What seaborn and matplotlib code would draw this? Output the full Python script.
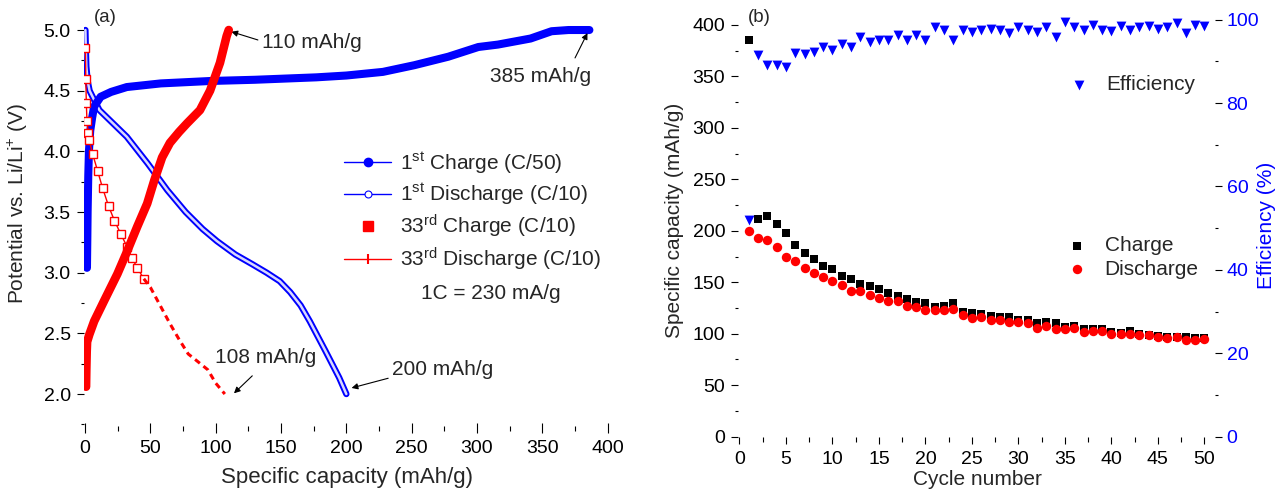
import numpy as np
import matplotlib
matplotlib.use("Agg")
import matplotlib.pyplot as plt
from matplotlib.lines import Line2D
from matplotlib.ticker import MultipleLocator
import seaborn as sns

# ---------------- data: panel (a) ----------------
charge1_cap = [1.5, 1.8, 2.0, 2.5, 3.0, 4.0, 5.5, 7, 12, 20, 32, 58, 96, 130, 177, 200, 228, 252, 278, 301, 316, 341, 357, 370, 386]
charge1_v = [3.04, 3.3, 3.5, 3.8, 4.0, 4.17, 4.28, 4.37, 4.45, 4.49, 4.53, 4.56, 4.58, 4.59, 4.61, 4.625, 4.655, 4.71, 4.78, 4.86, 4.88, 4.93, 4.99, 5.0, 5.0]

discharge1_cap = [0.3, 0.6, 1.0, 2.0, 3.5, 5.8, 11, 32, 48, 63, 77, 90, 101, 115, 128, 139, 149, 157, 165, 172, 184, 194.5, 200]
discharge1_v = [5.0, 4.85, 4.7, 4.58, 4.5, 4.45, 4.34, 4.12, 3.9, 3.68, 3.5, 3.36, 3.26, 3.15, 3.07, 3.0, 2.93, 2.84, 2.73, 2.6, 2.355, 2.135, 2.0]

charge33_cap = [0.8, 1.0, 1.3, 1.6, 3.3, 7, 14.7, 24.8, 32, 40, 47.6, 53, 59, 65, 72, 78, 88, 95.7, 103.3, 108.4, 110]
charge33_v = [2.06, 2.2, 2.35, 2.43, 2.49, 2.6, 2.77, 2.99, 3.17, 3.38, 3.57, 3.76, 3.95, 4.07, 4.16, 4.23, 4.34, 4.5, 4.73, 4.95, 5.0]

discharge33_cap = [0.3, 0.6, 1.0, 1.5, 2.5, 3.3, 5.8, 9.6, 13.4, 18, 22.5, 27.3, 32.4, 36, 40, 45, 50, 57, 65, 72, 79, 86, 94, 100, 107]
discharge33_v = [4.85, 4.6, 4.4, 4.25, 4.15, 4.09, 3.98, 3.84, 3.70, 3.55, 3.43, 3.32, 3.21, 3.12, 3.04, 2.95, 2.88, 2.74, 2.58, 2.45, 2.33, 2.27, 2.2, 2.09, 2.0]

legend_a = ["1$^{\\mathrm{st}}$ Charge (C/50)", "1$^{\\mathrm{st}}$ Discharge (C/10)",
            "33$^{\\mathrm{rd}}$ Charge (C/10)", "33$^{\\mathrm{rd}}$ Discharge (C/10)"]

# ---------------- data: panel (b) ----------------
cycles = list(range(1, 51))
charge = [385, 211, 214, 207, 198, 186, 178, 173, 166, 163, 156, 153, 148, 146, 143, 140, 137, 134, 131, 130,
          126, 127, 130, 121, 120, 119, 117, 116, 116, 113, 113, 110, 111, 110, 107, 108, 105, 105, 105, 102,
          101, 103, 100, 99, 98, 97, 97, 97, 96, 96]
discharge = [200, 193, 191, 184, 175, 171, 164, 159, 155, 151, 147, 142, 142, 138, 135, 132, 132, 127, 126, 123,
             123, 123, 124, 118, 115, 116, 113, 113, 111, 111, 110, 106, 108, 105, 105, 106, 102, 103, 103, 100,
             100, 100, 99, 99, 97, 96, 97, 94, 94, 95]
efficiency = [52, 91.5, 89.1, 89.0, 88.6, 91.9, 91.8, 92.2, 93.4, 92.8, 94.2, 93.4, 95.9, 94.6, 95.1, 95.0, 96.4, 95.1, 96.4, 95.1,
              98.3, 97.5, 95.1, 97.4, 97.0, 97.4, 97.8, 97.5, 96.7, 98.3, 97.5, 97.0, 98.3, 95.8, 99.4, 98.3, 97.4, 98.6, 97.4, 97.2,
              98.5, 97.4, 98.2, 98.5, 97.8, 98.3, 99.1, 96.8, 98.8, 98.5]

# ---------------- style ----------------
sns.set_style("ticks")
plt.rcParams['font.family'] = ['Liberation Sans', 'DejaVu Sans']
plt.rcParams['mathtext.fontset'] = 'custom'
plt.rcParams['mathtext.rm'] = 'Liberation Sans'
plt.rcParams['mathtext.it'] = 'Liberation Sans:italic'
plt.rcParams['mathtext.bf'] = 'Liberation Sans:bold'

BLUE = '#0000ff'
RED = '#ff0000'
TICK_FS = 14
LAB_FS = 15
LEG_FS = 15

fig = plt.figure(figsize=(12.76, 4.92), dpi=100)
axA = fig.add_axes([84 / 1276, (492 - 428) / 492, 523.7 / 1276, 418 / 492])
axB = fig.add_axes([738.5 / 1276, (492 - 436.7) / 492, 476.5 / 1276, 426.7 / 492])

# ---------------- panel (a) ----------------
sns.lineplot(x=charge1_cap, y=charge1_v, sort=False, estimator=None, ax=axA, color=BLUE, lw=5.8,
             solid_capstyle='round', zorder=3)
sns.lineplot(x=discharge1_cap, y=discharge1_v, sort=False, estimator=None, ax=axA, color=BLUE, lw=4.6, zorder=2)
sns.lineplot(x=discharge1_cap, y=discharge1_v, sort=False, estimator=None, ax=axA, color='#d8d8ff', lw=1.8, zorder=2)
sns.lineplot(x=charge33_cap, y=charge33_v, sort=False, estimator=None, ax=axA, color=RED, lw=6.2,
             solid_joinstyle='round', zorder=4)

d33c = np.array(discharge33_cap)
d33v = np.array(discharge33_v)
up = d33v >= 2.94
lo = d33v <= 2.95
sns.lineplot(x=d33c[up], y=d33v[up], sort=False, estimator=None, ax=axA, color=RED, lw=1.0,
             marker='s', markersize=6, markerfacecolor='white', markeredgecolor=RED, markeredgewidth=1.0, zorder=3)
sns.lineplot(x=d33c[lo], y=d33v[lo], sort=False, estimator=None, ax=axA, color=RED, lw=2.2,
             linestyle=(0, (2, 1.5)), zorder=3)

axA.set_xlim(-0.77, 400)
axA.set_ylim(1.72, 5.165)
axA.xaxis.set_major_locator(MultipleLocator(50))
axA.xaxis.set_minor_locator(MultipleLocator(25))
axA.yaxis.set_major_locator(MultipleLocator(0.5))
axA.yaxis.set_minor_locator(MultipleLocator(0.25))
axA.yaxis.set_major_formatter(matplotlib.ticker.FormatStrFormatter('%.1f'))
axA.tick_params(axis='x', which='major', direction='inout', length=6.8, width=0.8, pad=5.0,
                labelsize=TICK_FS, color='black', labelcolor='black')
axA.tick_params(axis='x', which='minor', direction='inout', length=3.6, width=0.8, color='black')
axA.tick_params(axis='y', which='major', direction='out', length=4.75, width=0.8, pad=4.8,
                labelsize=TICK_FS, color='black', labelcolor='black')
axA.tick_params(axis='y', which='minor', direction='out', length=2.4, width=0.8, color='black')
for s in axA.spines.values():
    s.set_visible(False)

axA.set_xlabel("Specific capacity (mAh/g)", fontsize=16)
axA.set_ylabel("Potential vs. Li/Li$^{+}$ (V)", fontsize=LAB_FS)
axA.xaxis.set_label_coords(0.503, -0.093)
axA.yaxis.set_label_coords(-0.103, 0.538)

hA = [Line2D([], [], color=BLUE, lw=1, marker='o', ms=6, mfc=BLUE, mec=BLUE),
      Line2D([], [], color=BLUE, lw=1, marker='o', ms=5, mfc='white', mec=BLUE, mew=0.8),
      Line2D([], [], color=RED, lw=0, marker='s', ms=6.5, mfc=RED, mec=RED),
      Line2D([], [], color=RED, lw=1, marker='|', ms=7, mew=1.5)]
legA = axA.legend(hA, legend_a, loc='upper left', bbox_to_anchor=(0.4965, 0.665), frameon=False,
                  fontsize=LEG_FS, handlelength=2.26, handletextpad=0.43, labelspacing=0.28,
                  borderpad=0, borderaxespad=0)
axA.text(310.6, 2.83, "1C = 230 mA/g", fontsize=LEG_FS, ha='center', va='center')

arrow_kw = dict(arrowstyle='-|>', color='black', lw=0.8, mutation_scale=9, shrinkA=0, shrinkB=0)
axA.annotate("", xy=(112, 4.986), xytext=(132.3, 4.918), arrowprops=arrow_kw)
axA.text(135.4, 4.90, "110 mAh/g", fontsize=LEG_FS, ha='left', va='center')
axA.annotate("", xy=(384.5, 4.975), xytext=(375, 4.77), arrowprops=arrow_kw)
axA.text(309.8, 4.62, "385 mAh/g", fontsize=LEG_FS, ha='left', va='center')
axA.annotate("", xy=(114, 2.006), xytext=(128, 2.15), arrowprops=arrow_kw)
axA.text(99.6, 2.297, "108 mAh/g", fontsize=LEG_FS, ha='left', va='center')
axA.annotate("", xy=(204, 2.05), xytext=(232, 2.13), arrowprops=arrow_kw)
axA.text(235, 2.206, "200 mAh/g", fontsize=LEG_FS, ha='left', va='center')
fig.text(94 / 1276, 1 - 17 / 492, "(a)", fontsize=13.4, ha='left', va='center')

# ---------------- panel (b) ----------------
axB2 = axB.twinx()
sns.scatterplot(x=cycles, y=charge, ax=axB, marker='s', s=38, color='black', linewidth=0, label='Charge', zorder=3)
sns.scatterplot(x=cycles, y=discharge, ax=axB, marker='o', s=46, color=RED, linewidth=0, label='Discharge', zorder=4)
sns.scatterplot(x=cycles, y=efficiency, ax=axB2, marker='v', s=50, color=BLUE, linewidth=0, label='Efficiency', zorder=3)

axB.set_xlim(-0.1, 51.14)
axB.set_ylim(0, 414.5)
axB2.set_ylim(0, 102.3)
axB.xaxis.set_major_locator(MultipleLocator(5))
axB.xaxis.set_minor_locator(MultipleLocator(2.5))
axB.yaxis.set_major_locator(MultipleLocator(50))
axB.yaxis.set_minor_locator(MultipleLocator(25))
axB2.yaxis.set_major_locator(MultipleLocator(20))
axB2.yaxis.set_minor_locator(MultipleLocator(10))

axB.tick_params(axis='x', which='major', direction='out', length=4.75, width=0.8, pad=5.5,
                labelsize=TICK_FS, color='black', labelcolor='black')
axB.tick_params(axis='x', which='minor', direction='out', length=3.6, width=0.8, color='black')
axB.tick_params(axis='y', which='major', direction='out', length=4.75, width=0.8, pad=4.8,
                labelsize=TICK_FS, color='black', labelcolor='black')
axB.tick_params(axis='y', which='minor', direction='out', length=2.4, width=0.8, color='black')
axB2.tick_params(axis='y', which='major', direction='out', length=4.75, width=0.8, pad=3.6,
                 labelsize=TICK_FS, color='black', labelcolor=BLUE)
axB2.tick_params(axis='y', which='minor', direction='out', length=2.4, width=0.8, color='black')
for a in (axB, axB2):
    for s in a.spines.values():
        s.set_visible(False)

fig.canvas.draw()
for t in axB.yaxis.get_major_ticks()[:1]:
    t.tick1line.set_visible(False)
for t in axB2.yaxis.get_major_ticks()[:1]:
    t.tick2line.set_visible(False)
for t in axB.xaxis.get_major_ticks()[:1]:
    t.tick1line.set_visible(False)

axB.set_xlabel("Cycle number", fontsize=LAB_FS)
axB.set_ylabel("Specific capacity (mAh/g)", fontsize=LAB_FS)
axB2.set_ylabel("Efficiency (%)", fontsize=LAB_FS, color=BLUE)
axB.xaxis.set_label_coords(0.5005, -0.078)
axB.yaxis.set_label_coords(-0.114, 0.508)
axB2.yaxis.set_label_coords(1.088, 0.496)

axB.legend(loc='upper left', bbox_to_anchor=(0.6777, 0.470), frameon=False, fontsize=LEG_FS,
           handlelength=1.5, handletextpad=0.57, labelspacing=0.22, borderpad=0, borderaxespad=0)
axB2.legend(loc='upper left', bbox_to_anchor=(0.6818, 0.8477), frameon=False, fontsize=LEG_FS,
            handlelength=1.5, handletextpad=0.57, borderpad=0, borderaxespad=0)
fig.text(747.5 / 1276, 1 - 17 / 492, "(b)", fontsize=13.4, ha='left', va='center')

fig.savefig("out.png", dpi=100)
